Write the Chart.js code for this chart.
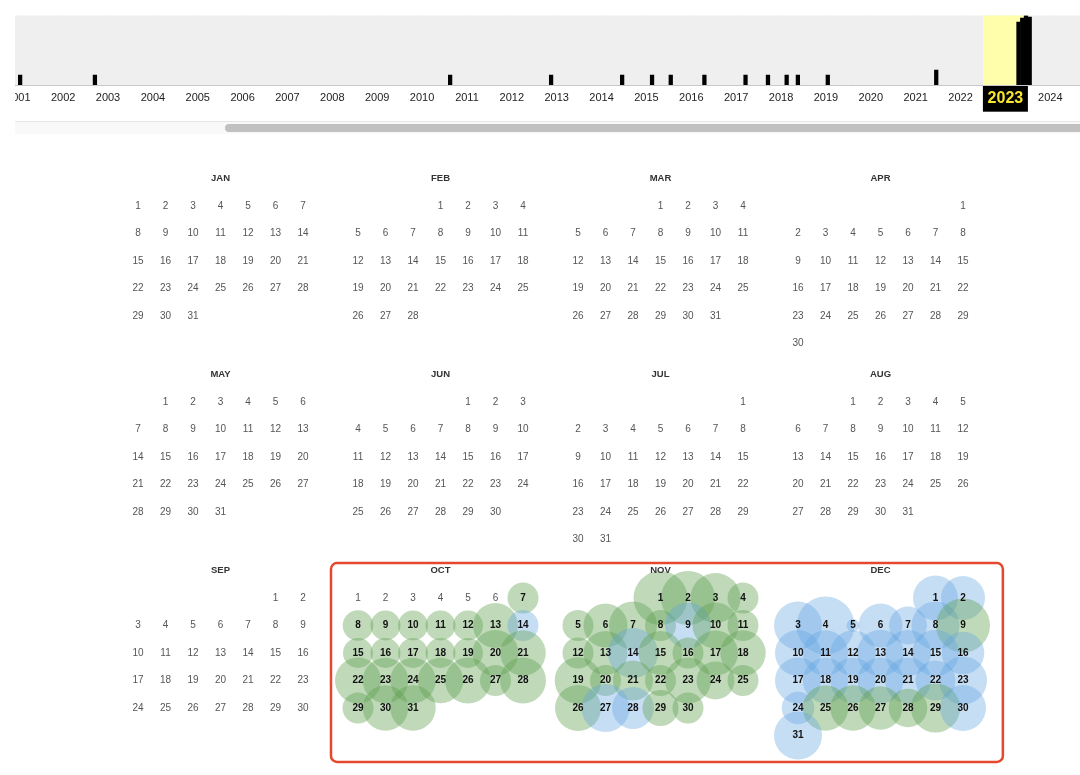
<!DOCTYPE html>
<html><head><meta charset="utf-8">
<script src="https://cdn.jsdelivr.net/npm/chart.js@4.4.1/dist/chart.umd.min.js"></script>
<style>
html,body{margin:0;padding:0;background:#fff;width:1080px;height:775px;overflow:hidden;font-family:'Liberation Sans',Arial,sans-serif}
#tl{position:absolute;left:15px;top:0;width:1065px;height:120px;overflow:hidden}
#tlc{position:absolute;left:-60px;top:0;width:1200px;height:120px}
#track{position:absolute;left:15px;top:121px;width:1065px;height:13px;background:#f9f9f9;border-top:1px solid #e6e6e6;box-sizing:border-box}
#thumb{position:absolute;left:225px;top:124px;width:870px;height:8px;border-radius:4px;background:#c1c1c1}
#cal{position:absolute;left:0;top:140px;width:1080px;height:635px}
</style></head><body>
<div id="tl"><div id="tlc"><canvas id="timeline"></canvas></div></div>
<div id="track"></div><div id="thumb"></div>
<div id="cal"><canvas id="calendar"></canvas></div>
<script>
// ---------- Timeline data ----------
const yearTicks = [2001,2002,2003,2004,2005,2006,2007,2008,2009,2010,2011,2012,2013,2014,2015,2016,2017,2018,2019,2020,2021,2022,2023,2024,2025,2026];
const highlightYear = 2023;
const barYears  = [2001,2003,2011,2013,2014,2015,2016,2016,2017,2018,2018,2018,2019,2021,2023,2023,2023,2024];
const barMonths = [7,   3,   2,   5,   12,  8,   1,   10,  9,   3,   8,   11,  7,   12,  10,  11,  12,  1];
const barCounts = [1,   1,   1,   1,   1,   1,   1,   1,   1,   1,   1,   1,   1,   1.5, 6.34,6.75,7.0, 6.85];

// ---------- Calendar data (2023) ----------
const calYear = 2023;
const monthNames = ['JAN','FEB','MAR','APR','MAY','JUN','JUL','AUG','SEP','OCT','NOV','DEC'];
const octDays = [7,8,9,10,11,12,13,14,15,16,17,18,19,20,21,22,23,24,25,26,27,28,29,30,31];
const octR    = [15.5,15.3,15,15,15,15,22.5,15.5,15,15,15,15,15,23,22.7,23,22.8,22.7,22.7,23,15.5,23,15.5,22.7,22.7];
const octKind = ['g','g','g','g','g','g','g','b','g','g','g','g','g','g','g','g','g','g','g','g','g','g','g','g','g'];
const novDays = [1,2,3,4,5,6,7,8,9,10,11,12,13,14,15,16,17,18,19,20,21,22,23,24,25,26,27,28,29,30];
const novR    = [27,27,25,15.5,15.5,22,24,15.5,23,23,15.5,15.5,22,25,22,15.5,22.5,22.7,23.3,15.5,20,15.5,23,19,15.5,23,24,21,18,15.5];
const novKind = ['g','g','g','g','g','g','g','g','b','g','g','g','g','b','g','g','g','g','g','g','g','g','g','g','g','g','b','b','g','g'];
const decDays = [1,2,3,4,5,6,7,8,9,10,11,12,13,14,15,16,17,18,19,20,21,22,23,24,25,26,27,28,29,30,31];
const decR    = [22.5,22,24,29,6.5,22,19,24,27,23,22.7,22.7,23.3,23,23.3,21.3,23,22.7,22.7,23,23,20,24,16.3,22.7,22.7,21.7,19.3,24.5,23,24];
const decKind = ['b','b','b','b','b','b','b','b','g','b','b','b','b','b','b','b','b','b','b','b','b','b','b','b','g','g','g','g','g','b','b'];

const FONT = "'Liberation Sans', Arial, sans-serif";

// ---------- Timeline chart ----------
const YEAR_PX = 44.87, Y2002_PX = 40.7, CANVAS_LEFT = -45, CANVAS_W = 1200;
const xMin = 2002 + (CANVAS_LEFT - Y2002_PX) / YEAR_PX;
const xMax = 2002 + (CANVAS_LEFT + CANVAS_W - Y2002_PX) / YEAR_PX;
const isHL = c => c && c.tick && c.tick.value === highlightYear;

const tlBg = {
  id: 'tlBg',
  beforeDatasetsDraw(chart) {
    const {ctx, chartArea: a, scales: {x}} = chart;
    ctx.save();
    ctx.fillStyle = '#efefef';
    ctx.fillRect(a.left, a.top, a.right - a.left, a.bottom - a.top);
    const x0 = x.getPixelForValue(highlightYear), x1 = x.getPixelForValue(highlightYear + 1);
    ctx.fillStyle = '#ffffab';
    ctx.fillRect(x0, a.top, x1 - x0, a.bottom - a.top);
    ctx.restore();
  }
};

new Chart(document.getElementById('timeline'), {
  type: 'bar',
  data: {
    datasets: [{
      data: barYears.map((y, i) => ({x: y + (barMonths[i] - 0.5) / 12, y: barCounts[i]})),
      backgroundColor: '#000',
      borderWidth: 0,
      barThickness: 3.6
    }]
  },
  options: {
    responsive: true, maintainAspectRatio: false, animation: false, events: [],
    layout: {padding: {top: 15.5, left: 0, right: 0, bottom: 0}, autoPadding: false},
    plugins: {legend: {display: false}, tooltip: {enabled: false}},
    scales: {
      x: {
        type: 'linear', min: xMin, max: xMax, offset: false, z: 1,
        afterBuildTicks: s => { s.ticks = yearTicks.map(v => ({value: v})); },
        afterFit: s => { s.height = 35; },
        grid: {color: '#d9d9d9', lineWidth: 1, drawTicks: false},
        border: {display: true, color: '#c8c8c8'},
        ticks: {
          autoSkip: false, maxRotation: 0, minRotation: 0, padding: 5.9,
          labelOffset: YEAR_PX / 2,
          callback: v => String(v),
          color: c => isHL(c) ? '#f8e72c' : '#222',
          font: c => isHL(c) ? {family: FONT, size: 16, weight: 'bold', lineHeight: 0.925} : {family: FONT, size: 11, lineHeight: 1.2},
          showLabelBackdrop: c => isHL(c),
          backdropColor: '#000',
          backdropPadding: {top: 4.9, bottom: 6, left: 4.7, right: 4.7}
        }
      },
      y: {display: false, min: 0, max: 7}
    }
  },
  plugins: [tlBg]
});

// ---------- Calendar chart ----------
const COL_PX = 27.5, COL0_PX = 138, ROW0_PX = 206, CAL_TOP = 140;
const BLOCK = 196 / COL_PX;
function cellPos(m, d) {
  const first = new Date(calYear, m, 1).getDay();
  const idx = first + d - 1;
  return {x: (m % 4) * 8 + (idx % 7), y: Math.floor(m / 4) * BLOCK + Math.floor(idx / 7)};
}
const GREEN = 'rgba(96,160,80,0.4)', BLUE = 'rgba(100,165,225,0.37)';
const bubbleSets = [[9, octDays, octR, octKind], [10, novDays, novR, novKind], [11, decDays, decR, decKind]];
const bubbleData = [], bubbleColors = [], marked = {};
bubbleSets.forEach(([m, days, rs, kinds]) => {
  days.forEach((d, i) => {
    const p = cellPos(m, d);
    bubbleData.push({x: p.x, y: p.y, r: rs[i]});
    bubbleColors.push(kinds[i] === 'b' ? BLUE : GREEN);
    marked[m + '-' + d] = true;
  });
});
const dayData = [];
for (let m = 0; m < 12; m++) {
  const n = new Date(calYear, m + 1, 0).getDate();
  for (let d = 1; d <= n; d++) {
    const p = cellPos(m, d);
    dayData.push({x: p.x, y: p.y, d: d, bold: !!marked[m + '-' + d]});
  }
}
const titleData = monthNames.map((t, m) => ({x: (m % 4) * 8 + 3, y: Math.floor(m / 4) * BLOCK - 28 / COL_PX, t}));

const calText = {
  id: 'calText',
  afterDatasetsDraw(chart) {
    const {ctx, scales: {x, y}} = chart;
    ctx.save();
    ctx.textAlign = 'center';
    ctx.textBaseline = 'middle';
    const dm = chart.getDatasetMeta(1);
    dm.data.forEach((el, i) => {
      const it = dayData[i];
      ctx.font = (it.bold ? 'bold ' : '') + '10px ' + FONT;
      ctx.fillStyle = it.bold ? '#111' : '#555';
      ctx.fillText(String(it.d), el.x, el.y);
    });
    const tm = chart.getDatasetMeta(2);
    ctx.font = 'bold 9.5px ' + FONT;
    ctx.fillStyle = '#333';
    tm.data.forEach((el, i) => ctx.fillText(titleData[i].t, el.x, el.y));
    // highlight frame around Oct-Dec
    const l = x.getPixelForValue(8 - 0.982), r = x.getPixelForValue(31.45);
    const t = y.getPixelForValue(2 * BLOCK - 1.27), b = y.getPixelForValue(2 * BLOCK + 5.96);
    ctx.strokeStyle = '#e5482c';
    ctx.lineWidth = 2.5;
    ctx.beginPath();
    ctx.roundRect(l, t, r - l, b - t, 6);
    ctx.stroke();
    ctx.restore();
  }
};

new Chart(document.getElementById('calendar'), {
  type: 'bubble',
  data: {
    datasets: [
      {type: 'bubble', data: bubbleData, backgroundColor: bubbleColors, borderWidth: 0, clip: false},
      {type: 'scatter', data: dayData, pointRadius: 0, borderWidth: 0},
      {type: 'scatter', data: titleData, pointRadius: 0, borderWidth: 0}
    ]
  },
  options: {
    responsive: true, maintainAspectRatio: false, animation: false, events: [],
    layout: {padding: 0, autoPadding: false},
    plugins: {legend: {display: false}, tooltip: {enabled: false}},
    scales: {
      x: {type: 'linear', display: false, min: (0 - COL0_PX) / COL_PX, max: (1080 - COL0_PX) / COL_PX},
      y: {type: 'linear', display: false, reverse: true, min: (CAL_TOP - ROW0_PX) / COL_PX, max: (775 - ROW0_PX) / COL_PX}
    }
  },
  plugins: [calText]
});
</script></body></html>
